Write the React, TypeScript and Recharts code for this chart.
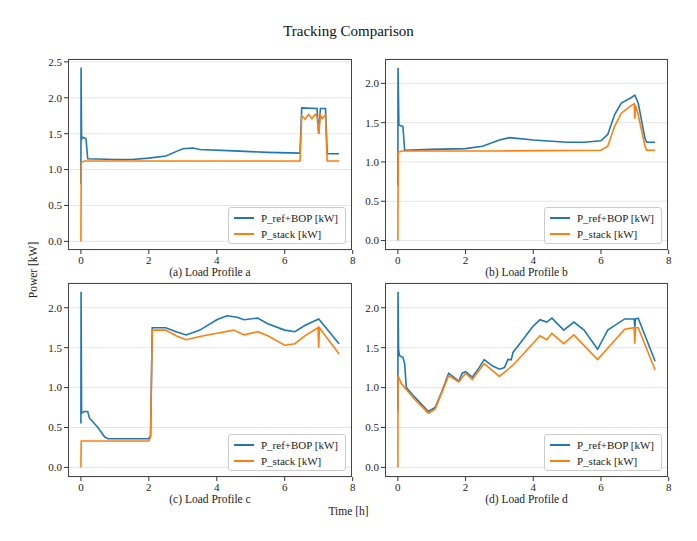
import React from "react";
import { LineChart, Line, XAxis, YAxis, CartesianGrid } from "recharts";

const aRefT = [0, 0.005, 0.02, 0.05, 0.15, 0.2, 1.0, 1.5, 2.0, 2.5, 2.8, 3.0, 3.3, 3.5, 4.5, 5.5, 6.45, 6.5, 6.95, 7.0, 7.05, 7.2, 7.25, 7.6];
const aRefP = [0.8, 2.42, 1.42, 1.45, 1.43, 1.15, 1.14, 1.14, 1.16, 1.19, 1.25, 1.29, 1.3, 1.28, 1.26, 1.24, 1.23, 1.86, 1.85, 1.5, 1.85, 1.85, 1.22, 1.22];
const aStkT = [0, 0.01, 0.1, 6.45, 6.5, 6.6, 6.7, 6.8, 6.9, 6.95, 7.0, 7.05, 7.1, 7.2, 7.25, 7.6];
const aStkP = [0, 1.1, 1.12, 1.12, 1.75, 1.7, 1.77, 1.71, 1.77, 1.74, 1.5, 1.76, 1.71, 1.76, 1.12, 1.12];

const bRefT = [0, 0.005, 0.03, 0.15, 0.2, 1, 2, 2.5, 3, 3.3, 4, 5, 5.5, 6.0, 6.2, 6.4, 6.6, 6.9, 7.0, 7.1, 7.3, 7.35, 7.6];
const bRefP = [0.7, 2.2, 1.47, 1.45, 1.15, 1.16, 1.17, 1.2, 1.28, 1.31, 1.28, 1.25, 1.25, 1.27, 1.35, 1.6, 1.75, 1.82, 1.85, 1.75, 1.3, 1.25, 1.25];
const bStkT = [0, 0.01, 0.1, 3, 6, 6.2, 6.4, 6.6, 6.9, 6.98, 7.0, 7.02, 7.1, 7.3, 7.35, 7.6];
const bStkP = [0, 1.12, 1.14, 1.14, 1.15, 1.2, 1.45, 1.62, 1.72, 1.74, 1.55, 1.72, 1.6, 1.2, 1.15, 1.15];

const cRefT = [0, 0.005, 0.02, 0.1, 0.2, 0.25, 0.5, 0.7, 0.8, 2.0, 2.05, 2.1, 2.5, 2.8, 3.1, 3.5, 4.0, 4.3, 4.6, 4.8, 5.2, 5.5, 6.0, 6.3, 6.6, 7.0, 7.6];
const cRefP = [0.55, 2.2, 0.68, 0.7, 0.7, 0.62, 0.5, 0.38, 0.36, 0.36, 0.4, 1.75, 1.75, 1.7, 1.66, 1.72, 1.85, 1.9, 1.88, 1.85, 1.87, 1.8, 1.72, 1.7, 1.78, 1.86, 1.55];
const cStkT = [0, 0.01, 2.0, 2.05, 2.1, 2.5, 2.8, 3.1, 3.5, 4.0, 4.5, 4.8, 5.2, 5.5, 6.0, 6.3, 6.6, 6.98, 7.0, 7.02, 7.6];
const cStkP = [0, 0.33, 0.33, 0.38, 1.72, 1.72, 1.65, 1.6, 1.64, 1.68, 1.72, 1.66, 1.7, 1.65, 1.53, 1.55, 1.65, 1.75, 1.5, 1.75, 1.42];

const dRefT = [0, 0.005, 0.02, 0.05, 0.15, 0.2, 0.25, 0.5, 0.9, 1.1, 1.3, 1.5, 1.8, 1.9, 2.0, 2.2, 2.4, 2.55, 2.8, 3.0, 3.15, 3.25, 3.35, 3.4, 3.6, 4.0, 4.2, 4.4, 4.55, 4.9, 5.2, 5.5, 5.9, 6.2, 6.7, 6.98, 7.0, 7.02, 7.1, 7.6];
const dRefP = [0.7, 2.2, 1.48, 1.4, 1.38, 1.3, 1.0, 0.88, 0.7, 0.75, 0.95, 1.18, 1.08, 1.18, 1.2, 1.13, 1.25, 1.35, 1.27, 1.23, 1.25, 1.35, 1.35, 1.44, 1.55, 1.77, 1.85, 1.82, 1.87, 1.72, 1.82, 1.72, 1.48, 1.72, 1.86, 1.86, 1.75, 1.86, 1.87, 1.33];
const dStkT = [0, 0.005, 0.1, 0.5, 0.9, 1.1, 1.5, 1.8, 2.0, 2.2, 2.55, 3.0, 3.4, 4.2, 4.4, 4.55, 4.9, 5.2, 5.9, 6.7, 6.98, 7.0, 7.02, 7.1, 7.6];
const dStkP = [0, 1.15, 1.05, 0.85, 0.68, 0.73, 1.15, 1.07, 1.18, 1.1, 1.3, 1.14, 1.28, 1.65, 1.6, 1.68, 1.55, 1.66, 1.35, 1.73, 1.75, 1.55, 1.75, 1.75, 1.22];

const xTicks = [0, 2, 4, 6, 8];
const yTicksA = [0, 0.5, 1.0, 1.5, 2.0, 2.5];
const yTicksB = [0, 0.5, 1.0, 1.5, 2.0];

const pts = (t: number[], p: number[]) => t.map((x, i) => ({ t: x, p: p[i] }));
const FONT = "'Liberation Serif', 'DejaVu Serif', serif";
const BLUE = "#1f77b4";
const ORANGE = "#ff7f0e";

function Panel({ left, top, pw, ph, refT, refP, stkT, stkP, ymax, yTicks, caption }: any) {
  const yw = 40;
  const chartLeft = left - yw;
  const tick = { fontFamily: FONT, fontSize: 11, fill: "#222" };
  return (
    <>
      <div style={{ position: "absolute", left: chartLeft, top: top - 5 }}>
        <LineChart width={pw + yw + 5} height={ph + 5 + 20} margin={{ top: 5, right: 5, left: 0, bottom: 0 }}>
          <CartesianGrid vertical={false} stroke="#e6e6e6" />
          <XAxis type="number" dataKey="t" domain={[-0.38, 7.98]} ticks={xTicks} allowDataOverflow height={20}
            tick={tick} stroke="#333" tickSize={4} axisLine={false} />
          <YAxis type="number" dataKey="p" domain={[-0.12, ymax]} ticks={yTicks} allowDataOverflow width={yw}
            tick={tick} stroke="#333" tickSize={4} axisLine={false} tickFormatter={(v: number) => v.toFixed(1)} />
          <Line data={pts(refT, refP)} dataKey="p" stroke={BLUE} strokeWidth={1.6} dot={false} isAnimationActive={false} />
          <Line data={pts(stkT, stkP)} dataKey="p" stroke={ORANGE} strokeWidth={1.6} dot={false} isAnimationActive={false} />
        </LineChart>
      </div>
      <div style={{ position: "absolute", left, top, width: pw, height: ph, border: "1px solid #444", boxSizing: "border-box", pointerEvents: "none" }} />
      <div style={{ position: "absolute", left: left + pw - 124, top: top + ph - 43, width: 118, height: 37, border: "1px solid #ccc", borderRadius: 3, background: "rgba(255,255,255,0.85)", fontFamily: FONT, fontSize: 11, color: "#222", boxSizing: "border-box", padding: "2px 5px", whiteSpace: "nowrap" }}>
        <div style={{ display: "flex", alignItems: "center", height: 16 }}>
          <span style={{ display: "inline-block", width: 20, height: 2, background: BLUE, marginRight: 7 }} />P_ref+BOP [kW]
        </div>
        <div style={{ display: "flex", alignItems: "center", height: 16 }}>
          <span style={{ display: "inline-block", width: 20, height: 2, background: ORANGE, marginRight: 7 }} />P_stack [kW]
        </div>
      </div>
      <div style={{ position: "absolute", left, top: top + ph + 16, width: pw, textAlign: "center", fontFamily: FONT, fontSize: 11.5, lineHeight: "13px", color: "#222" }}>{caption}</div>
    </>
  );
}

export default function App() {
  return (
    <div style={{ position: "absolute", left: 0, top: 0, width: 697, height: 541, background: "#fff" }}>
      <div style={{ position: "absolute", left: 0, top: 23, width: 697, textAlign: "center", fontFamily: FONT, fontSize: 15, color: "#111" }}>Tracking Comparison</div>
      <Panel left={68} top={59} pw={284} ph={191} refT={aRefT} refP={aRefP} stkT={aStkT} stkP={aStkP} ymax={2.54} yTicks={yTicksA} caption="(a) Load Profile a" />
      <Panel left={385} top={59} pw={283} ph={191} refT={bRefT} refP={bRefP} stkT={bStkT} stkP={bStkP} ymax={2.31} yTicks={yTicksB} caption="(b) Load Profile b" />
      <Panel left={68} top={283} pw={284} ph={194} refT={cRefT} refP={cRefP} stkT={cStkT} stkP={cStkP} ymax={2.31} yTicks={yTicksB} caption="(c) Load Profile c" />
      <Panel left={385} top={283} pw={283} ph={194} refT={dRefT} refP={dRefP} stkT={dStkT} stkP={dStkP} ymax={2.31} yTicks={yTicksB} caption="(d) Load Profile d" />
      <div style={{ position: "absolute", left: 0, top: 505, width: 697, textAlign: "center", fontFamily: FONT, fontSize: 11.5, color: "#222" }}>Time [h]</div>
      <div style={{ position: "absolute", left: 33, top: 270, transform: "translate(-50%,-50%) rotate(-90deg)", fontFamily: FONT, fontSize: 11.5, color: "#222", whiteSpace: "nowrap" }}>Power [kW]</div>
    </div>
  );
}
